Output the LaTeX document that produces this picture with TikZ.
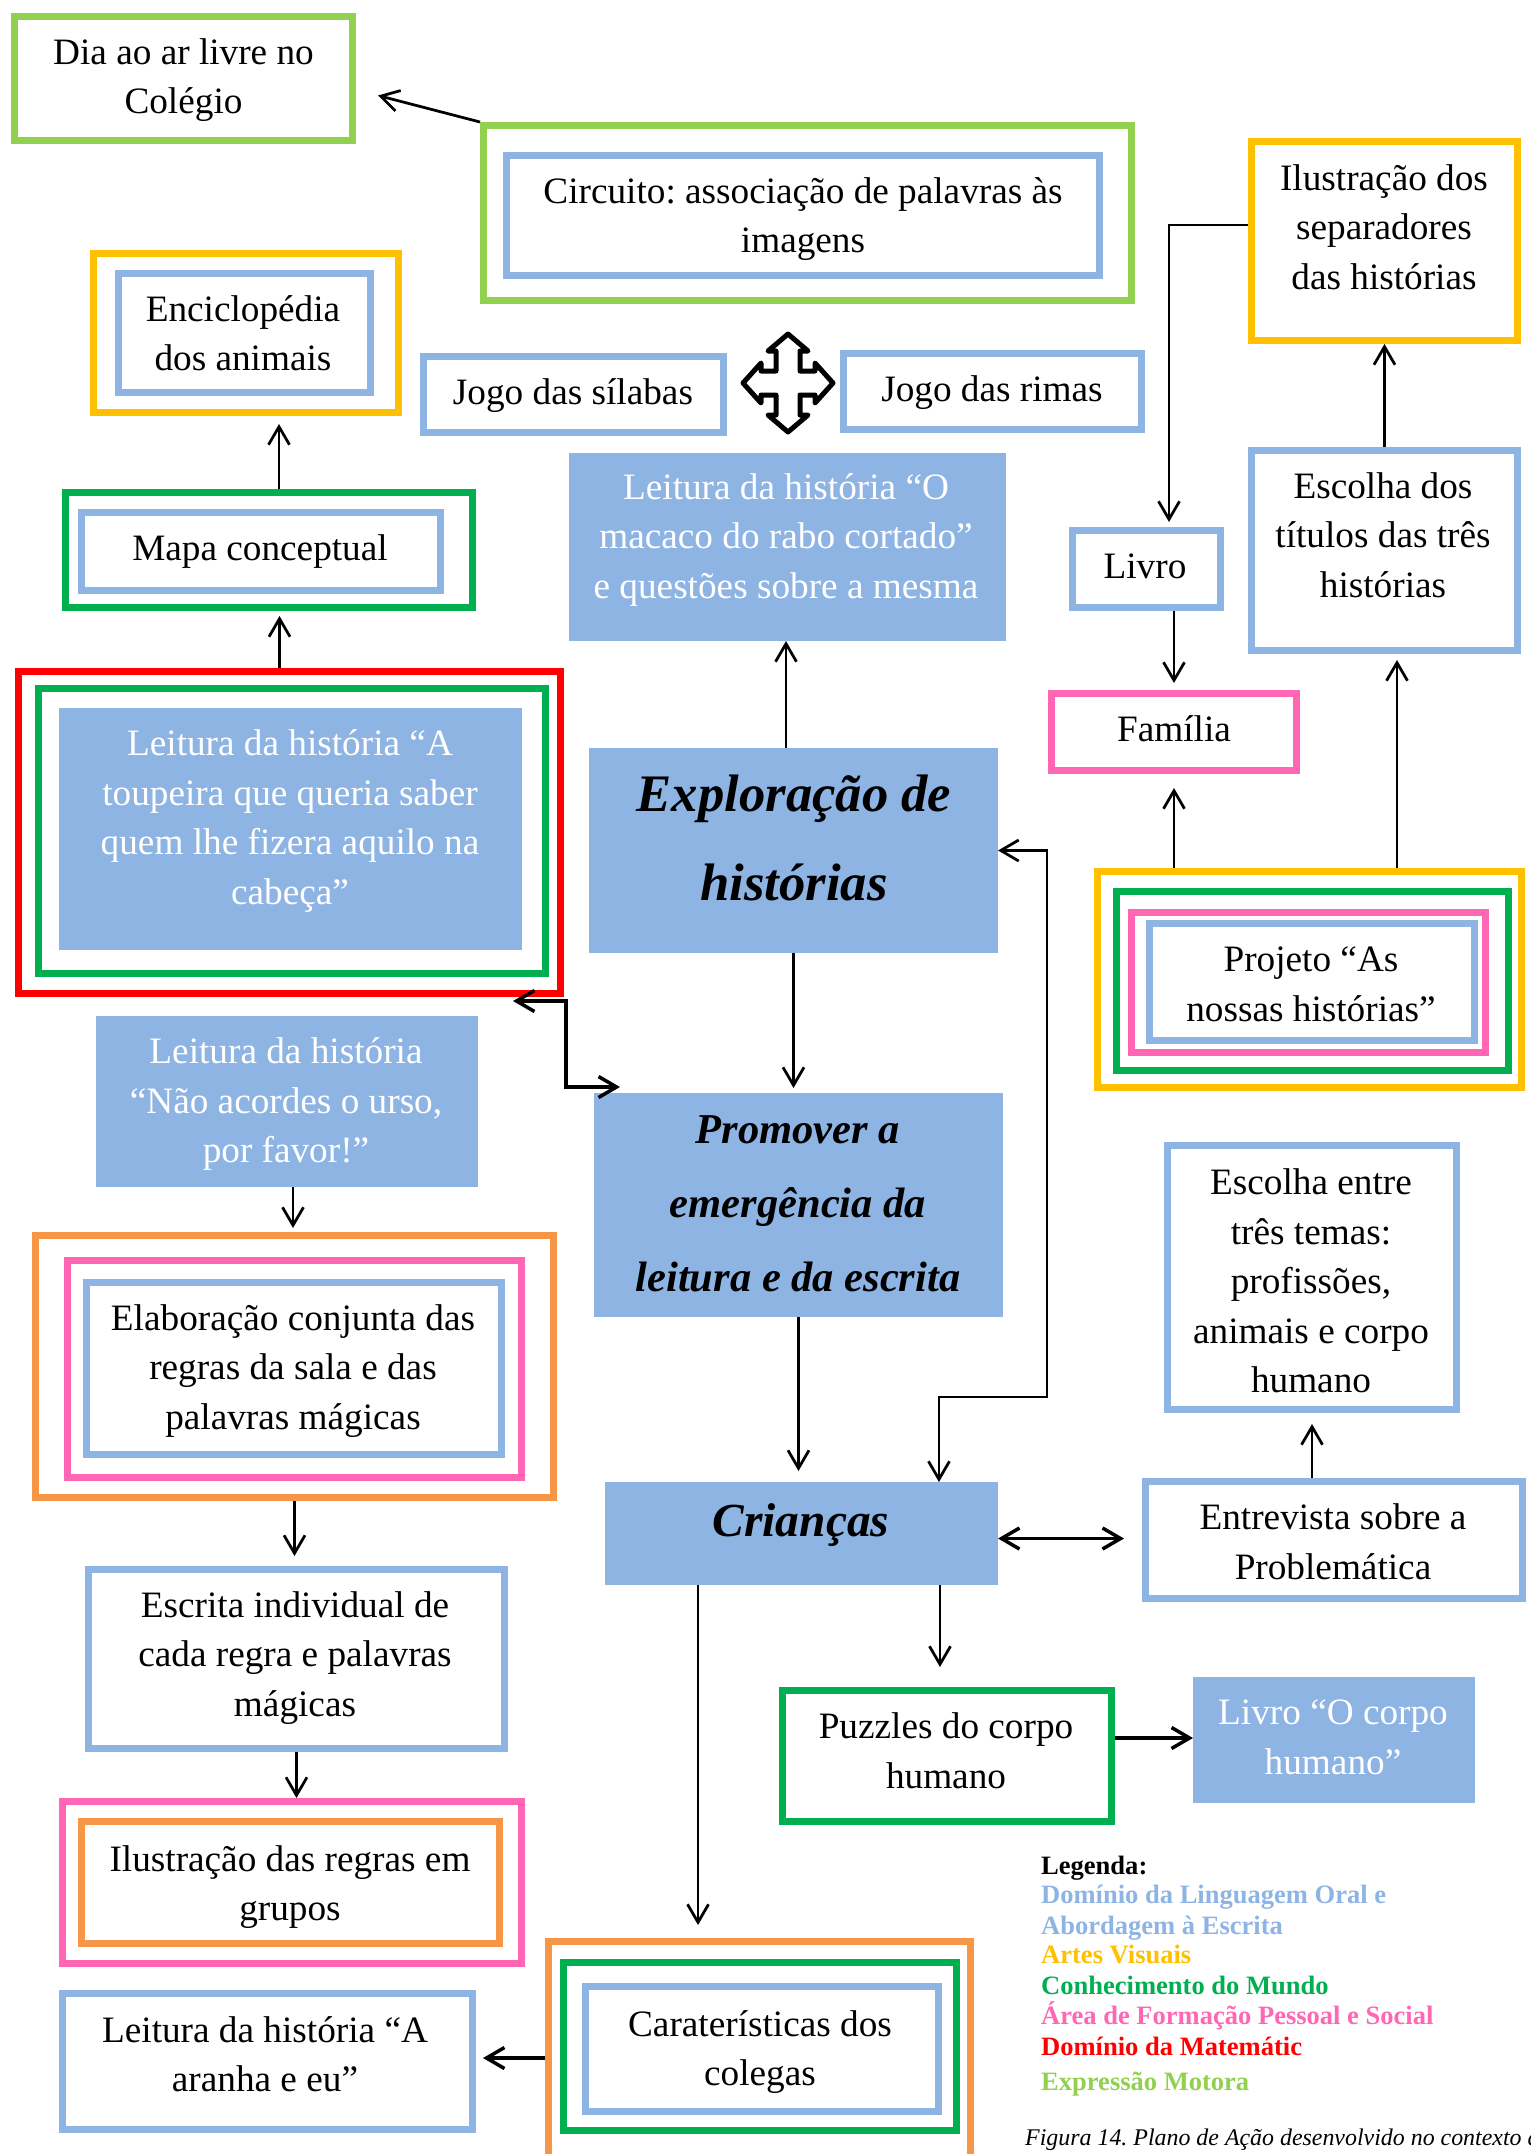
\documentclass[tikz,border=0pt]{standalone}
\usepackage{fontspec}
\setmainfont{Liberation Serif}
\usepackage{tikz}
\usetikzlibrary{arrows.meta}
\usetikzlibrary{calc}
\definecolor{azul}{HTML}{8EB4E3}
\definecolor{verdeclaro}{HTML}{92D050}
\definecolor{verde}{HTML}{00B050}
\definecolor{dourado}{HTML}{FFC000}
\definecolor{laranja}{HTML}{F79646}
\definecolor{rosa}{HTML}{FF66B3}
\definecolor{vermelho}{HTML}{FF0000}
\frenchspacing
\tikzset{moldura/.style={draw=#1, line width=0.14cm, rectangle, inner sep=0pt},
         sz/.style 2 args={minimum width=#1*0.02cm, minimum height=#2*0.02cm},
         cheio/.style={fill=azul, rectangle, inner sep=0pt, outer sep=0pt},
         txt/.style={align=center, font=\fontsize{21.2}{28.2}\selectfont},
         btxt/.style={align=center, text=white, font=\fontsize{21.2}{28.2}\selectfont},
         leg/.style={anchor=base west, font=\bfseries\fontsize{15.1}{17}\selectfont},
         seta/.style={->, line width=0.055cm},
         setagrossa/.style={line width=0.07cm},
         >={Straight Barb[length=0.36cm,width=0.42cm]}}

\begin{document}
\begin{tikzpicture}[x=0.02cm, y=-0.02cm]
        \useasboundingbox (0,0) rectangle (1531,2154);
        \clip (0,0) rectangle (1531,2154);
        
        % Topo
        \node[moldura=verdeclaro, sz={338}{124}] (dia) at (183.5,78.5) {};
        \node[txt] (diaT) at (183.5,80) {Dia ao ar livre no\\Colégio};
        
        \node[moldura=verdeclaro, sz={648}{175}] (circ) at (807.5,213) {};
        \node[moldura=azul, sz={593}{120}] (circB) at (803,215.5) {};
        \node[txt] (circT) at (803,219) {Circuito: associação de palavras às\\imagens};
        
        \node[moldura=dourado, sz={305}{159}] (enci) at (246,333) {};
        \node[moldura=azul, sz={252}{119}] (enciB) at (244.5,333) {};
        \node[txt] (enciT) at (243,333) {Enciclopédia\\dos animais};
        
        \node[moldura=azul, sz={300}{76}] (silabas) at (573.5,394.5) {};
        \node[txt] (silabasT) at (573,396) {Jogo das sílabas};
        
        \node[moldura=azul, sz={298}{76}] (rimas) at (992.5,391.5) {};
        \node[txt] (rimasT) at (992,393) {Jogo das rimas};
        
        % seta de quatro pontas
        \draw[line width=0.1cm, line join=round, fill=white, shift={(788,383)}]
            (0,-49) -- (20,-32) -- (12,-32) -- (12,-12) -- (27,-12) -- (27,-20) -- (45,0)
            -- (27,20) -- (27,12) -- (12,12) -- (12,32) -- (20,32) -- (0,49)
            -- (-20,32) -- (-12,32) -- (-12,12) -- (-27,12) -- (-27,20) -- (-45,0)
            -- (-27,-20) -- (-27,-12) -- (-12,-12) -- (-12,-32) -- (-20,-32) -- cycle;
        
        \node[moldura=dourado, sz={266}{199}] (ilus) at (1384.5,241) {};
        \node[txt] (ilusT) at (1384,227) {Ilustração dos\\separadores\\das histórias};
        
        \node[moldura=azul, sz={266}{200}] (tit) at (1384.5,550.5) {};
        \node[txt] (titT) at (1383,535) {Escolha dos\\títulos das três\\histórias};
        
        \node[moldura=verde, sz={407}{115}] (mapa) at (269,550) {};
        \node[moldura=azul, sz={359}{78}] (mapaB) at (261,551.5) {};
        \node[txt] (mapaT) at (260,552) {Mapa conceptual};
        
        \node[cheio, sz={437}{188}] (macaco) at (787.5,547) {};
        \node[btxt] (macacoT) at (786,540) {Leitura da história “O\\macaco do rabo cortado”\\e questões sobre a mesma};
        
        \node[moldura=azul, sz={148}{77}] (livro) at (1146.5,569) {};
        \node[txt] (livroT) at (1145,566) {Livro};
        
        % Meio
        \node[moldura=vermelho, sz={542}{322}] (toup) at (289.5,832.5) {};
        \node[moldura=verde, sz={507}{285}] (toupV) at (292,831) {};
        \node[cheio, sz={463}{242}] (toupB) at (290.5,829) {};
        \node[btxt] (toupT) at (290,821) {Leitura da história “A\\toupeira que queria saber\\quem lhe fizera aquilo na\\cabeça”};
        
        \node[cheio, sz={409}{205}] (expl) at (793.5,850.5) {};
        \node[align=center, font=\bfseries\itshape\fontsize{30}{50.6}\selectfont] (explT) at (794,838) {Exploração de\\histórias};
        
        \node[moldura=rosa, sz={245}{77}] (fam) at (1174,732) {};
        \node[txt] (famT) at (1174,729) {Família};
        
        \node[moldura=dourado, sz={424}{216}] (proj) at (1309.5,979.5) {};
        \node[moldura=verde, sz={392}{179}] (projV) at (1312.5,981) {};
        \node[moldura=rosa, sz={354}{140}] (projR) at (1308.5,982.5) {};
        \node[moldura=azul, sz={325}{117}] (projB) at (1312,982) {};
        \node[txt] (projT) at (1311,984) {Projeto “As\\nossas histórias”};
        
        \node[cheio, sz={382}{171}] (naoac) at (287,1101.5) {};
        \node[btxt] (naoacT) at (286,1104) {Leitura da história\\“Não acordes o urso,\\por favor!”};
        
        \node[cheio, sz={409}{224}] (prom) at (798.5,1205) {};
        \node[align=center, font=\bfseries\itshape\fontsize{24.2}{42}\selectfont] (promT) at (798,1204) {Promover a\\emergência da\\leitura e da escrita};
        
        \node[moldura=azul, sz={289}{264}] (temas) at (1312,1277.5) {};
        \node[txt] (temasT) at (1311,1281) {Escolha entre\\três temas:\\profissões,\\animais e corpo\\humano};
        
        \node[moldura=laranja, sz={518}{262}] (elab) at (294.5,1366.5) {};
        \node[moldura=rosa, sz={454}{217}] (elabR) at (294.5,1369) {};
        \node[moldura=azul, sz={415}{172}] (elabB) at (294,1368.5) {};
        \node[txt] (elabT) at (293,1371) {Elaboração conjunta das\\regras da sala e das\\palavras mágicas};
        
        % Baixo
        \node[cheio, sz={393}{103}] (crian) at (801.5,1533.5) {};
        \node[font=\bfseries\itshape\fontsize{27}{30}\selectfont] (crianT) at (801,1525) {Crianças};
        
        \node[moldura=azul, sz={377}{117}] (entr) at (1334,1540) {};
        \node[txt] (entrT) at (1333,1542) {Entrevista sobre a\\Problemática};
        
        \node[moldura=azul, sz={416}{179}] (escr) at (296.5,1659) {};
        \node[txt] (escrT) at (295,1658) {Escrita individual de\\cada regra e palavras\\mágicas};
        
        \node[moldura=verde, sz={329}{131}] (puz) at (947,1756) {};
        \node[txt] (puzT) at (946,1751) {Puzzles do corpo\\humano};
        
        \node[cheio, sz={282}{126}] (livc) at (1334,1740) {};
        \node[btxt] (livcT) at (1333,1737) {Livro “O corpo\\humano”};
        
        \node[moldura=rosa, sz={459}{162}] (ilreg) at (292,1882.5) {};
        \node[moldura=laranja, sz={418}{122}] (ilregL) at (290.5,1882.5) {};
        \node[txt] (ilregT) at (290,1887) {Ilustração das regras em\\grupos};
        
        \node[moldura=laranja, sz={422}{233}] (carat) at (759.5,2058) {};
        \node[moldura=verde, sz={393}{168}] (caratV) at (760,2046.5) {};
        \node[moldura=azul, sz={353}{125}] (caratB) at (762,2049) {};
        \node[txt] (caratT) at (760,2052) {Caraterísticas dos\\colegas};
        
        \node[moldura=azul, sz={410}{136}] (aranha) at (267.5,2061.5) {};
        \node[txt] (aranhaT) at (265,2054) {Leitura da história “A\\aranha e eu”};
        
        % Setas
        \draw[seta] (circ.north west) -- ($(dia.east)+(22,17)$);
        \draw[seta, shorten >=0.1cm] ([yshift=0.32cm]ilus.west) -| ([xshift=-0.1cm]livro.north -| fam.north);
        \draw[seta] (tit.north) -- (tit.north |- ilus.south);
        \draw[seta, shorten >=0.14cm] (livro.south -| fam.north) -- (fam.north);
        \draw[seta, shorten >=0.16cm] ([xshift=0.2cm]mapa.north) -- ([xshift=0.2cm]mapa.north |- enci.south);
        \draw[seta, shorten >=0.1cm] ([xshift=-0.2cm]toup.north) -- ([xshift=-0.2cm]toup.north |- mapa.south);
        \draw[seta] ([xshift=-0.15cm]expl.north) -- ([xshift=-0.15cm]expl.north |- macaco.south);
        \draw[seta, shorten >=0.28cm] (proj.north -| fam.south) -- (fam.south);
        \draw[seta, shorten >=0.12cm] ([xshift=0.25cm]proj.north -| tit.south) -- ([xshift=0.25cm]tit.south);
        
        \coordinate (dobra) at (1047,1397);
        \draw[seta, <->] (expl.east) -| (dobra) -| ([xshift=2.75cm]crian.north);
        \draw[seta, setagrossa, <->] ([xshift=-1.02cm, yshift=-0.08cm]toup.south east) -- ++(53,0) |- ([xshift=0.52cm, yshift=0.12cm]prom.north west);
        
        \draw[seta, shorten >=0.1cm] (expl.south) -- (expl.south |- prom.north);
        \draw[seta, shorten >=0.22cm] (prom.south) -- (prom.south |- crian.north);
        \draw[seta, shorten >=0.08cm] ([xshift=0.12cm]naoac.south) -- ([xshift=0.12cm]naoac.south |- elab.north);
        \draw[seta, setagrossa, <->, shorten >=0.36cm] ([yshift=-0.1cm]crian.east) -- ([yshift=-0.1cm]crian.east -| entr.west);
        \draw[seta, shorten >=0.22cm] (entr.north -| temas.south) -- (temas.south);
        \draw[seta, shorten >=0.2cm] (elab.south) -- (elab.south |- escr.north);
        \draw[seta] (escr.south) -- (escr.south |- ilreg.north);
        \draw[seta, shorten >=0.4cm] ([xshift=2.77cm]crian.south) -- ([xshift=2.77cm]crian.south |- puz.north);
        \draw[seta, setagrossa] ([yshift=0.36cm]puz.east) -- ([yshift=0.36cm]puz.east -| livc.west);
        \draw[seta, shorten >=0.26cm] ([xshift=-2.07cm]crian.south) -- ([xshift=-2.07cm]crian.south |- carat.north);
        \draw[seta, setagrossa, shorten >=0.14cm] (carat.west) -- (carat.west -| aranha.east);
        
        % Legenda
        \node[leg] (leg0) at (1035,1874) {Legenda:};
        \node[leg, text=azul] (leg1) at (1035,1903) {Domínio da Linguagem Oral e};
        \node[leg, text=azul] (leg2) at (1035,1934) {Abordagem à Escrita};
        \node[leg, text=dourado] (leg3) at (1035,1963) {Artes Visuais};
        \node[leg, text=verde] (leg4) at (1035,1994) {Conhecimento do Mundo};
        \node[leg, text=rosa] (leg5) at (1035,2024) {Área de Formação Pessoal e Social};
        \node[leg, text=vermelho] (leg6) at (1035,2055) {Domínio da Matemátic};
        \node[leg, text=verdeclaro] (leg7) at (1035,2090) {Expressão Motora};
        \node[anchor=base west, font=\itshape\fontsize{13.6}{16}\selectfont] (figura) at (1019,2145) {Figura 14. Plano de Ação desenvolvido no contexto d};
        
\end{tikzpicture}
\end{document}
